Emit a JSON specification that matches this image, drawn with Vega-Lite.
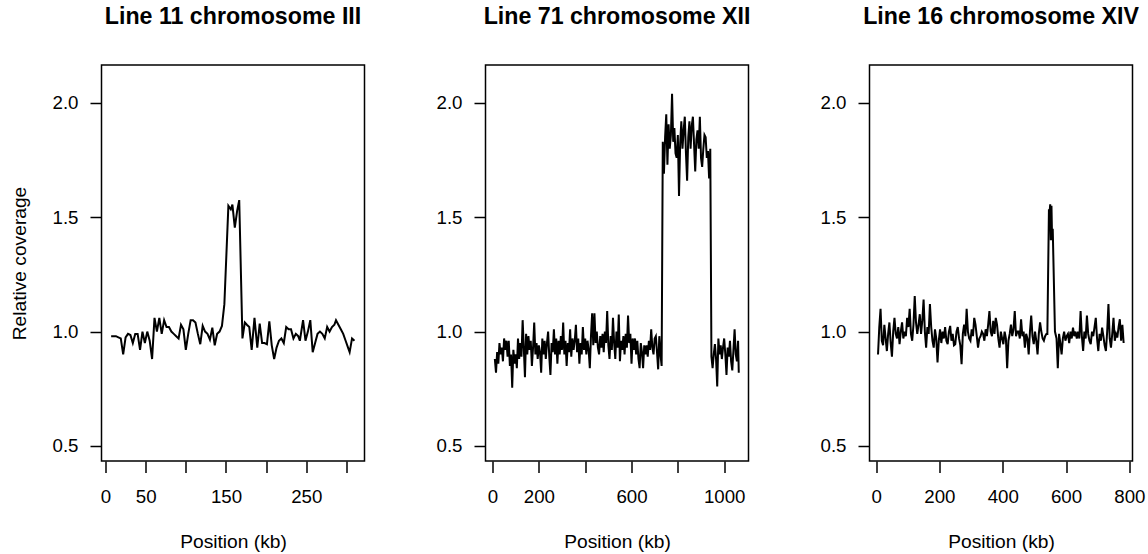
{
"$schema": "https://vega.github.io/schema/vega-lite/v6.json",
"background": "white",
"padding": {"left": 9.5, "top": 4, "right": 0, "bottom": 0},
"bounds": "flush",
"spacing": 121,
"config": {
 "font": "Liberation Sans",
 "view": {"stroke": "black", "strokeWidth": 1.5},
 "axis": {"domain": false, "grid": false, "tickColor": "black", "tickWidth": 1.5, "tickSize": 11.5, "labelFontSize": 18.7, "labelColor": "black", "labelFont": "Liberation Sans", "titleFont": "Liberation Sans", "titleFontSize": 19.2, "titleFontWeight": "normal", "titleColor": "black", "labelOverlap": false, "labelFlush": false},
 "axisX": {"labelPadding": 15, "titlePadding": 26.5},
 "axisY": {"labelPadding": 12, "titlePadding": 22.5},
 "title": {"fontSize": 23.2, "fontWeight": "bold", "color": "black", "font": "Liberation Sans", "anchor": "middle", "baseline": "alphabetic", "offset": 36}
},
"datasets": {
 "p1": [
{"kb":7,"cov":0.98},{"kb":10,"cov":0.98},{"kb":13,"cov":0.98},{"kb":16,"cov":0.975},{"kb":19,"cov":0.97},{"kb":22,"cov":0.90},{"kb":25,"cov":0.975},{"kb":28,"cov":0.99},{"kb":31,"cov":0.985},{"kb":34,"cov":0.95},
{"kb":37,"cov":0.99},{"kb":40,"cov":0.99},{"kb":43,"cov":0.92},{"kb":46,"cov":1.00},{"kb":49,"cov":0.95},{"kb":52,"cov":1.00},{"kb":55,"cov":0.96},{"kb":58,"cov":0.88},{"kb":61,"cov":1.06},{"kb":64,"cov":1.00},
{"kb":67,"cov":1.06},{"kb":70,"cov":0.99},{"kb":73,"cov":1.05},{"kb":76,"cov":1.02},{"kb":79,"cov":1.02},{"kb":82,"cov":1.00},{"kb":85,"cov":0.99},{"kb":88,"cov":0.98},{"kb":91,"cov":0.97},{"kb":94,"cov":1.03},
{"kb":97,"cov":1.01},{"kb":100,"cov":0.92},{"kb":103,"cov":0.99},{"kb":106,"cov":1.05},{"kb":109,"cov":1.05},{"kb":112,"cov":1.04},{"kb":115,"cov":0.99},{"kb":118,"cov":0.945},{"kb":121,"cov":1.025},{"kb":124,"cov":1.00},
{"kb":127,"cov":0.99},{"kb":130,"cov":0.965},{"kb":133,"cov":1.017},{"kb":136,"cov":0.94},{"kb":139,"cov":0.99},{"kb":142,"cov":1.00},{"kb":145,"cov":1.025},{"kb":148,"cov":1.12},{"kb":153,"cov":1.55},{"kb":156,"cov":1.535},
{"kb":158,"cov":1.555},{"kb":161,"cov":1.455},{"kb":164,"cov":1.53},{"kb":166.5,"cov":1.575},{"kb":170.5,"cov":0.97},{"kb":173.5,"cov":1.04},{"kb":176,"cov":1.03},{"kb":179,"cov":1.02},{"kb":182,"cov":0.92},{"kb":185.5,"cov":1.06},
{"kb":189,"cov":0.93},{"kb":192,"cov":1.035},{"kb":195,"cov":0.95},{"kb":198,"cov":0.95},{"kb":201,"cov":0.945},{"kb":204,"cov":1.045},{"kb":207,"cov":0.94},{"kb":210,"cov":0.88},{"kb":213,"cov":0.93},{"kb":216,"cov":0.96},
{"kb":219,"cov":0.97},{"kb":222,"cov":0.95},{"kb":225,"cov":1.02},{"kb":228,"cov":1.01},{"kb":231,"cov":1.01},{"kb":234,"cov":0.97},{"kb":237,"cov":0.99},{"kb":240,"cov":0.98},{"kb":242,"cov":0.96},{"kb":246,"cov":1.05},
{"kb":249,"cov":0.96},{"kb":252,"cov":1.00},{"kb":255,"cov":1.05},{"kb":258,"cov":0.91},{"kb":261,"cov":0.95},{"kb":264,"cov":0.99},{"kb":267,"cov":1.00},{"kb":270,"cov":0.99},{"kb":273,"cov":0.97},{"kb":276,"cov":1.02},
{"kb":279,"cov":1.00},{"kb":282,"cov":1.02},{"kb":285,"cov":1.03},{"kb":287,"cov":1.05},{"kb":290,"cov":1.03},{"kb":293,"cov":1.01},{"kb":296,"cov":0.99},{"kb":299,"cov":0.96},{"kb":302,"cov":0.93},{"kb":304,"cov":0.91},
{"kb":307,"cov":0.97},{"kb":310,"cov":0.96}
 ],
 "p2": [
{"kb":10,"cov":0.88},{"kb":15,"cov":0.82},{"kb":20,"cov":0.91},{"kb":25,"cov":0.86},{"kb":30,"cov":0.95},{"kb":35,"cov":0.90},{"kb":40,"cov":0.93},{"kb":45,"cov":0.87},{"kb":50,"cov":0.97},{"kb":55,"cov":0.92},
{"kb":60,"cov":0.96},{"kb":65,"cov":0.89},{"kb":70,"cov":0.96},{"kb":75,"cov":0.85},{"kb":80,"cov":0.90},{"kb":85,"cov":0.755},{"kb":90,"cov":0.92},{"kb":95,"cov":0.86},{"kb":100,"cov":0.90},{"kb":105,"cov":0.84},
{"kb":110,"cov":0.97},{"kb":115,"cov":0.88},{"kb":120,"cov":0.95},{"kb":125,"cov":0.89},{"kb":130,"cov":1.05},{"kb":135,"cov":0.93},{"kb":140,"cov":0.80},{"kb":145,"cov":0.99},{"kb":150,"cov":0.90},{"kb":155,"cov":0.98},
{"kb":160,"cov":0.92},{"kb":165,"cov":0.96},{"kb":170,"cov":0.85},{"kb":175,"cov":0.93},{"kb":180,"cov":1.04},{"kb":185,"cov":0.90},{"kb":190,"cov":0.95},{"kb":195,"cov":0.88},{"kb":200,"cov":0.94},{"kb":205,"cov":0.91},
{"kb":210,"cov":0.82},{"kb":215,"cov":0.97},{"kb":220,"cov":0.90},{"kb":225,"cov":0.96},{"kb":230,"cov":0.88},{"kb":235,"cov":0.95},{"kb":240,"cov":1.00},{"kb":245,"cov":0.89},{"kb":250,"cov":0.81},{"kb":255,"cov":0.95},
{"kb":260,"cov":0.91},{"kb":265,"cov":1.01},{"kb":270,"cov":0.90},{"kb":275,"cov":0.97},{"kb":280,"cov":0.86},{"kb":285,"cov":0.96},{"kb":290,"cov":0.90},{"kb":295,"cov":0.98},{"kb":300,"cov":0.92},{"kb":305,"cov":1.04},
{"kb":310,"cov":0.90},{"kb":315,"cov":0.96},{"kb":320,"cov":0.85},{"kb":325,"cov":0.95},{"kb":330,"cov":0.91},{"kb":335,"cov":1.01},{"kb":340,"cov":0.89},{"kb":345,"cov":0.97},{"kb":350,"cov":0.92},{"kb":355,"cov":0.96},
{"kb":360,"cov":1.03},{"kb":365,"cov":0.91},{"kb":370,"cov":0.97},{"kb":375,"cov":0.86},{"kb":380,"cov":0.95},{"kb":385,"cov":0.90},{"kb":390,"cov":1.02},{"kb":395,"cov":0.92},{"kb":400,"cov":0.97},{"kb":405,"cov":0.90},
{"kb":410,"cov":0.96},{"kb":415,"cov":0.92},{"kb":420,"cov":0.84},{"kb":425,"cov":0.98},{"kb":430,"cov":1.08},{"kb":435,"cov":0.94},{"kb":440,"cov":1.08},{"kb":445,"cov":0.95},{"kb":450,"cov":1.00},{"kb":455,"cov":0.93},
{"kb":460,"cov":0.90},{"kb":465,"cov":0.98},{"kb":470,"cov":0.93},{"kb":475,"cov":0.99},{"kb":480,"cov":0.91},{"kb":485,"cov":1.00},{"kb":490,"cov":0.95},{"kb":495,"cov":1.09},{"kb":500,"cov":0.94},{"kb":505,"cov":0.88},
{"kb":510,"cov":0.98},{"kb":515,"cov":0.92},{"kb":520,"cov":1.06},{"kb":525,"cov":0.95},{"kb":530,"cov":0.88},{"kb":535,"cov":1.00},{"kb":540,"cov":0.93},{"kb":545,"cov":1.075},{"kb":550,"cov":0.87},{"kb":555,"cov":0.96},
{"kb":560,"cov":0.92},{"kb":565,"cov":0.98},{"kb":570,"cov":0.90},{"kb":575,"cov":0.99},{"kb":580,"cov":0.93},{"kb":585,"cov":1.07},{"kb":590,"cov":0.95},{"kb":595,"cov":0.99},{"kb":600,"cov":0.86},{"kb":605,"cov":0.97},
{"kb":610,"cov":0.92},{"kb":615,"cov":0.97},{"kb":620,"cov":0.90},{"kb":625,"cov":0.96},{"kb":630,"cov":0.88},{"kb":635,"cov":0.84},{"kb":640,"cov":0.95},{"kb":645,"cov":0.91},{"kb":650,"cov":0.84},{"kb":655,"cov":0.94},
{"kb":660,"cov":0.90},{"kb":665,"cov":0.94},{"kb":670,"cov":0.89},{"kb":675,"cov":0.96},{"kb":680,"cov":0.92},{"kb":685,"cov":1.01},{"kb":690,"cov":0.93},{"kb":695,"cov":0.90},{"kb":700,"cov":0.97},{"kb":705,"cov":0.98},
{"kb":710,"cov":0.91},{"kb":715,"cov":0.835},{"kb":720,"cov":0.98},{"kb":725,"cov":0.90},{"kb":730,"cov":0.85},
{"kb":735,"cov":1.83},{"kb":740,"cov":1.69},{"kb":745,"cov":1.85},{"kb":750,"cov":1.95},{"kb":755,"cov":1.73},{"kb":760,"cov":1.907},{"kb":765,"cov":1.80},{"kb":770,"cov":1.86},{"kb":775,"cov":2.04},{"kb":780,"cov":1.83},
{"kb":785,"cov":1.89},{"kb":790,"cov":1.78},{"kb":795,"cov":1.76},{"kb":800,"cov":1.86},{"kb":805,"cov":1.593},{"kb":810,"cov":1.82},{"kb":815,"cov":1.92},{"kb":820,"cov":1.80},{"kb":825,"cov":1.88},{"kb":830,"cov":1.94},
{"kb":835,"cov":1.78},{"kb":840,"cov":1.66},{"kb":845,"cov":1.85},{"kb":850,"cov":1.92},{"kb":855,"cov":1.80},{"kb":860,"cov":1.90},{"kb":865,"cov":1.94},{"kb":870,"cov":1.82},{"kb":875,"cov":1.70},{"kb":880,"cov":1.84},
{"kb":885,"cov":1.88},{"kb":890,"cov":1.80},{"kb":895,"cov":1.94},{"kb":900,"cov":1.76},{"kb":905,"cov":1.72},{"kb":910,"cov":1.80},{"kb":915,"cov":1.86},{"kb":920,"cov":1.85},{"kb":925,"cov":1.76},{"kb":930,"cov":1.79},
{"kb":935,"cov":1.67},{"kb":940,"cov":1.80},
{"kb":945,"cov":0.89},{"kb":950,"cov":0.84},{"kb":955,"cov":0.90},{"kb":960,"cov":0.945},{"kb":965,"cov":0.88},{"kb":970,"cov":0.76},{"kb":975,"cov":0.97},{"kb":980,"cov":0.90},{"kb":985,"cov":0.94},{"kb":990,"cov":0.88},
{"kb":995,"cov":0.93},{"kb":1000,"cov":0.97},{"kb":1005,"cov":0.90},{"kb":1010,"cov":0.81},{"kb":1015,"cov":0.93},{"kb":1020,"cov":0.89},{"kb":1025,"cov":0.96},{"kb":1030,"cov":0.87},{"kb":1035,"cov":0.83},{"kb":1040,"cov":0.92},
{"kb":1045,"cov":1.01},{"kb":1050,"cov":0.90},{"kb":1055,"cov":0.87},{"kb":1060,"cov":0.96},{"kb":1063,"cov":0.82}
 ],
 "p3": [
{"kb":6,"cov":0.90},{"kb":10,"cov":1.02},{"kb":14,"cov":1.10},{"kb":18,"cov":0.96},{"kb":22,"cov":0.94},{"kb":26,"cov":1.03},{"kb":30,"cov":0.97},{"kb":34,"cov":0.915},{"kb":38,"cov":0.99},{"kb":42,"cov":1.04},
{"kb":46,"cov":0.95},{"kb":50,"cov":0.89},{"kb":54,"cov":1.00},{"kb":58,"cov":1.06},{"kb":62,"cov":0.99},{"kb":66,"cov":0.97},{"kb":70,"cov":1.02},{"kb":74,"cov":0.945},{"kb":78,"cov":1.00},{"kb":82,"cov":1.04},
{"kb":86,"cov":0.97},{"kb":90,"cov":1.00},{"kb":94,"cov":0.98},{"kb":98,"cov":1.06},{"kb":102,"cov":1.02},{"kb":106,"cov":1.10},{"kb":110,"cov":0.99},{"kb":114,"cov":0.96},{"kb":118,"cov":1.03},{"kb":122,"cov":1.156},
{"kb":126,"cov":1.04},{"kb":130,"cov":0.99},{"kb":134,"cov":1.03},{"kb":138,"cov":1.076},{"kb":142,"cov":0.99},{"kb":146,"cov":1.05},{"kb":150,"cov":1.14},{"kb":154,"cov":1.00},{"kb":158,"cov":0.93},{"kb":162,"cov":1.02},
{"kb":166,"cov":0.99},{"kb":170,"cov":1.12},{"kb":174,"cov":1.02},{"kb":178,"cov":0.96},{"kb":182,"cov":0.93},{"kb":186,"cov":1.01},{"kb":190,"cov":0.97},{"kb":194,"cov":0.865},{"kb":198,"cov":0.96},{"kb":202,"cov":1.01},
{"kb":206,"cov":0.95},{"kb":210,"cov":1.00},{"kb":214,"cov":0.97},{"kb":218,"cov":1.02},{"kb":222,"cov":0.96},{"kb":226,"cov":0.945},{"kb":230,"cov":1.00},{"kb":234,"cov":1.025},{"kb":238,"cov":0.96},{"kb":242,"cov":0.99},
{"kb":246,"cov":0.94},{"kb":250,"cov":0.945},{"kb":254,"cov":1.00},{"kb":258,"cov":1.02},{"kb":262,"cov":0.97},{"kb":266,"cov":0.94},{"kb":270,"cov":0.857},{"kb":274,"cov":0.99},{"kb":278,"cov":1.03},{"kb":282,"cov":0.98},
{"kb":286,"cov":1.10},{"kb":290,"cov":1.00},{"kb":294,"cov":0.97},{"kb":298,"cov":0.96},{"kb":302,"cov":1.01},{"kb":306,"cov":0.98},{"kb":310,"cov":1.06},{"kb":314,"cov":1.03},{"kb":318,"cov":0.98},{"kb":322,"cov":0.93},
{"kb":326,"cov":0.97},{"kb":330,"cov":0.98},{"kb":334,"cov":1.00},{"kb":338,"cov":0.99},{"kb":342,"cov":0.96},{"kb":346,"cov":1.01},{"kb":350,"cov":0.98},{"kb":354,"cov":1.03},{"kb":358,"cov":1.09},{"kb":362,"cov":1.00},
{"kb":366,"cov":0.98},{"kb":370,"cov":1.047},{"kb":374,"cov":0.99},{"kb":378,"cov":1.06},{"kb":382,"cov":1.03},{"kb":386,"cov":0.97},{"kb":390,"cov":0.93},{"kb":394,"cov":1.00},{"kb":398,"cov":0.97},{"kb":402,"cov":0.945},
{"kb":406,"cov":1.00},{"kb":410,"cov":0.97},{"kb":414,"cov":0.84},{"kb":418,"cov":0.96},{"kb":422,"cov":0.99},{"kb":426,"cov":1.03},{"kb":430,"cov":0.98},{"kb":434,"cov":1.01},{"kb":438,"cov":1.09},{"kb":442,"cov":0.98},
{"kb":446,"cov":1.00},{"kb":450,"cov":1.00},{"kb":454,"cov":0.97},{"kb":458,"cov":1.054},{"kb":462,"cov":0.98},{"kb":466,"cov":1.00},{"kb":470,"cov":0.93},{"kb":474,"cov":0.99},{"kb":478,"cov":0.97},{"kb":482,"cov":0.90},
{"kb":486,"cov":1.00},{"kb":490,"cov":1.07},{"kb":494,"cov":0.98},{"kb":498,"cov":0.945},{"kb":502,"cov":1.00},{"kb":506,"cov":0.96},{"kb":510,"cov":0.90},{"kb":514,"cov":0.99},{"kb":518,"cov":1.04},{"kb":522,"cov":1.00},
{"kb":526,"cov":0.97},{"kb":530,"cov":0.96},{"kb":534,"cov":0.98},{"kb":538,"cov":0.99},{"kb":541,"cov":0.99},{"kb":546,"cov":1.535},{"kb":548,"cov":1.52},{"kb":550,"cov":1.557},{"kb":552,"cov":1.40},{"kb":554,"cov":1.55},
{"kb":556,"cov":1.40},{"kb":558,"cov":1.45},{"kb":565,"cov":1.00},{"kb":570,"cov":0.97},{"kb":574,"cov":0.84},{"kb":578,"cov":0.99},{"kb":582,"cov":0.95},{"kb":586,"cov":0.90},{"kb":590,"cov":0.97},{"kb":594,"cov":1.00},
{"kb":598,"cov":0.96},{"kb":602,"cov":0.98},{"kb":606,"cov":0.99},{"kb":610,"cov":0.95},{"kb":614,"cov":1.00},{"kb":618,"cov":0.97},{"kb":622,"cov":1.017},{"kb":626,"cov":0.98},{"kb":630,"cov":1.00},{"kb":634,"cov":0.97},
{"kb":638,"cov":1.00},{"kb":642,"cov":0.97},{"kb":646,"cov":1.09},{"kb":650,"cov":0.98},{"kb":654,"cov":0.915},{"kb":658,"cov":1.00},{"kb":662,"cov":0.97},{"kb":666,"cov":1.07},{"kb":670,"cov":0.99},{"kb":674,"cov":0.96},
{"kb":678,"cov":0.945},{"kb":682,"cov":1.00},{"kb":686,"cov":0.98},{"kb":690,"cov":1.02},{"kb":694,"cov":1.06},{"kb":698,"cov":0.97},{"kb":702,"cov":0.915},{"kb":706,"cov":0.99},{"kb":710,"cov":0.96},{"kb":714,"cov":1.017},
{"kb":718,"cov":0.98},{"kb":722,"cov":0.94},{"kb":726,"cov":0.915},{"kb":730,"cov":1.00},{"kb":734,"cov":1.12},{"kb":738,"cov":0.97},{"kb":742,"cov":0.93},{"kb":746,"cov":0.99},{"kb":750,"cov":1.06},{"kb":754,"cov":0.96},
{"kb":758,"cov":0.99},{"kb":762,"cov":0.974},{"kb":766,"cov":1.02},{"kb":770,"cov":1.054},{"kb":774,"cov":0.96},{"kb":778,"cov":1.03},{"kb":782,"cov":0.95}
 ]
},
"hconcat": [
 {"width": 263, "height": 396, "title": "Line 11 chromosome III", "data": {"name": "p1"},
  "mark": {"type": "line", "color": "black", "strokeWidth": 2},
  "encoding": {
   "x": {"field": "kb", "type": "quantitative", "scale": {"domain": [-5, 322.5], "nice": false, "zero": false},
         "axis": {"title": "Position (kb)", "format": "d", "values": [0, 50, 100, 150, 200, 250, 300], "labelExpr": "datum.value == 100 || datum.value == 200 || datum.value == 300 ? '' : datum.label"}},
   "y": {"field": "cov", "type": "quantitative", "scale": {"domain": [0.434, 2.166], "nice": false, "zero": false},
         "axis": {"title": "Relative coverage", "values": [0.5, 1, 1.5, 2], "format": ".1f"}}}},
 {"width": 263, "height": 396, "title": "Line 71 chromosome XII", "data": {"name": "p2"},
  "mark": {"type": "line", "color": "black", "strokeWidth": 2},
  "encoding": {
   "x": {"field": "kb", "type": "quantitative", "scale": {"domain": [-30.3, 1105], "nice": false, "zero": false},
         "axis": {"title": "Position (kb)", "format": "d", "values": [0, 200, 400, 600, 800, 1000], "labelExpr": "datum.value == 400 || datum.value == 800 ? '' : datum.label"}},
   "y": {"field": "cov", "type": "quantitative", "scale": {"domain": [0.434, 2.166], "nice": false, "zero": false},
         "axis": {"title": null, "values": [0.5, 1, 1.5, 2], "format": ".1f"}}}},
 {"width": 263, "height": 396, "title": "Line 16 chromosome XIV", "data": {"name": "p3"},
  "mark": {"type": "line", "color": "black", "strokeWidth": 2},
  "encoding": {
   "x": {"field": "kb", "type": "quantitative", "scale": {"domain": [-20.9, 810], "nice": false, "zero": false},
         "axis": {"title": "Position (kb)", "format": "d", "values": [0, 200, 400, 600, 800]}},
   "y": {"field": "cov", "type": "quantitative", "scale": {"domain": [0.434, 2.166], "nice": false, "zero": false},
         "axis": {"title": null, "values": [0.5, 1, 1.5, 2], "format": ".1f"}}}}
]
}
